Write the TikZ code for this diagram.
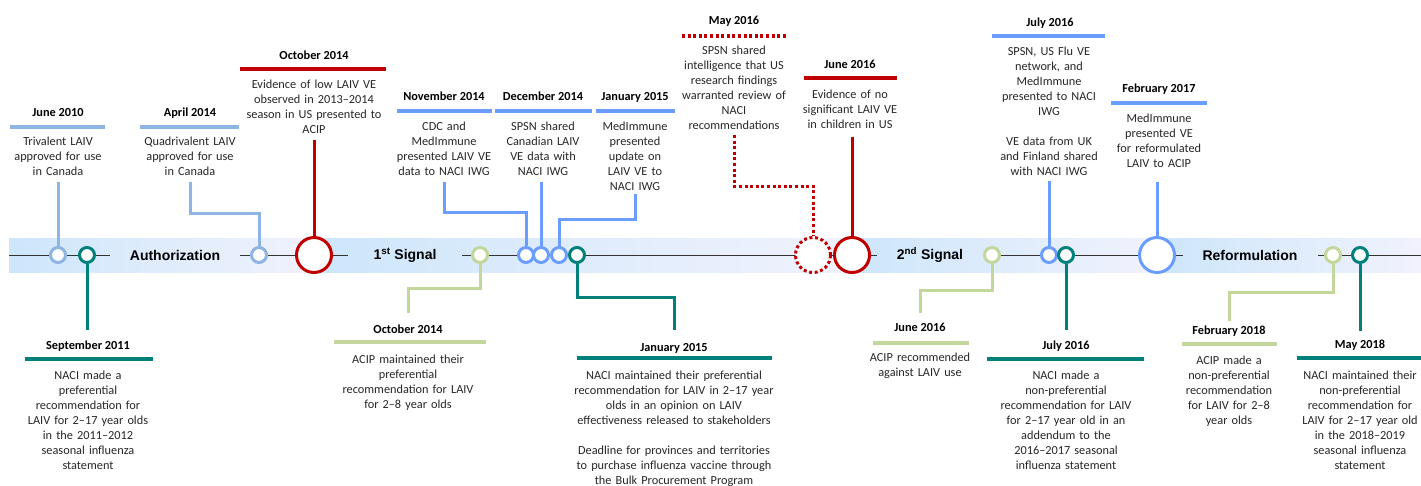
\documentclass[tikz,border=0pt]{standalone}
\usepackage{fontspec}
\setmainfont{Carlito}
\newfontfamily\stagefont{Liberation Sans}
\definecolor{lblue}{HTML}{8DB4E2}
\definecolor{mblue}{HTML}{6B9DFF}
\definecolor{dred}{HTML}{C00000}
\definecolor{lgreen}{HTML}{C3D69B}
\definecolor{tealc}{HTML}{00807A}
\definecolor{bandL}{HTML}{CDE6FB}
\definecolor{bandR}{HTML}{F1F2FD}
\definecolor{txtc}{HTML}{262626}
\tikzset{
 body/.style={font=\fontsize{12.3}{15}\selectfont, text=txtc, text width=#1, align=center, anchor=base, inner sep=0pt},
 datel/.style={font=\fontsize{12.3}{15}\selectfont\bfseries, anchor=base, inner sep=0pt},
 bar/.style={line width=3.5pt},
 conn/.style={line width=3pt},
 sdot/.style={circle, draw, fill=white, line width=3pt, minimum size=15pt, inner sep=0pt},
 bdot/.style={sdot, minimum size=35pt},
 dotline/.style={dash pattern=on 3pt off 2.6pt},
 tline/.style={line width=1pt, draw=black!80},
 stage/.style={font=\stagefont\fontsize{14}{16}\selectfont\bfseries, inner sep=0pt},
}
\begin{document}
\begin{tikzpicture}[x=1pt,y=-1pt]
\useasboundingbox (0,0) rectangle (1421,485);
% band
\shade[left color=bandL, right color=bandR] (9,238) rectangle (314,272);
\shade[left color=bandL, right color=bandR] (314,238) rectangle (852,272);
\shade[left color=bandL, right color=bandR] (852,238) rectangle (1157,272);
\shade[left color=bandL, right color=bandR] (1157,238) rectangle (1421,272);
% stage labels
\node[stage] (sA) at (175,255) {Authorization};
\node[stage] (sB) at (405,255) {1\textsuperscript{st} Signal};
\node[stage] (sC) at (930,255) {2\textsuperscript{nd} Signal};
\node[stage] (sD) at (1250,255) {Reformulation};
% timeline
\draw[tline] (9,255) -- (110,255);
\draw[tline] (240,255) -- (348,255);
\draw[tline] (462,255) -- (877,255);
\draw[tline] (983,255) -- (1183,255);
\draw[tline] (1318,255) -- (1421,255);
% circles
\node[sdot, draw=lblue] (cJun10) at (58,255) {};
\node[sdot, draw=tealc] (cSep11) at (87,255) {};
\node[sdot, draw=lblue] (cApr14) at (259,255) {};
\node[bdot, draw=dred] (cOct14) at (314,255) {};
\node[sdot, draw=lgreen] (cOct14b) at (480,255) {};
\node[sdot, draw=mblue] (cNov14) at (526,255) {};
\node[sdot, draw=mblue] (cDec14) at (541,255) {};
\node[sdot, draw=mblue] (cJan15) at (559,255) {};
\node[sdot, draw=tealc] (cJan15b) at (577,255) {};
\node[bdot, draw=dred, dotline] (cMay16) at (813,255) {};
\node[bdot, draw=dred] (cJun16) at (852,255) {};
\node[sdot, draw=lgreen] (cJun16b) at (992,255) {};
\node[sdot, draw=mblue] (cJul16) at (1049,255) {};
\node[sdot, draw=tealc] (cJul16b) at (1066,255) {};
\node[bdot, draw=mblue] (cFeb17) at (1157,255) {};
\node[sdot, draw=lgreen] (cFeb18) at (1333,255) {};
\node[sdot, draw=tealc] (cMay18) at (1360,255) {};

% ---------- top events ----------
% June 2010
\node[datel] (dJun10) at (58,116) {June 2010};
\draw[bar, lblue] (10,127) -- (105,127);
\node[body=110pt] (tJun10) at (58,145) {Trivalent LAIV\\approved for use\\in Canada};
\coordinate (kJun10) at (58,182);
\draw[conn, lblue] (kJun10) -- (cJun10);
% April 2014
\node[datel] (dApr14) at (190,116) {April 2014};
\draw[bar, lblue] (140,127) -- (239,127);
\node[body=110pt] (tApr14) at (190,145) {Quadrivalent LAIV\\approved for use\\in Canada};
\coordinate (kApr14) at (190,182);
\coordinate (bApr14) at (190,213);
\draw[conn, lblue] (kApr14) -- (bApr14) -| (cApr14);
% October 2014
\node[datel] (dOct14) at (314,59) {October 2014};
\draw[bar, dred] (240,69) -- (386,69);
\node[body=150pt] (tOct14) at (314,88) {Evidence of low LAIV VE\\observed in 2013--2014\\season in US presented to\\ACIP};
\coordinate (kOct14) at (314,140);
\draw[conn, dred] (kOct14) -- (cOct14);
% November 2014
\node[datel] (dNov14) at (444,100) {November 2014};
\draw[bar, mblue] (397,111) -- (492,111);
\node[body=110pt] (tNov14) at (444,130) {CDC and\\MedImmune\\presented LAIV VE\\data to NACI IWG};
\coordinate (kNov14) at (444,182);
\coordinate (bNov14) at (444,212);
\draw[conn, mblue] (kNov14) -- (bNov14) -| (cNov14);
% December 2014
\node[datel] (dDec14) at (543,100) {December 2014};
\draw[bar, mblue] (495,111) -- (592,111);
\node[body=110pt] (tDec14) at (543,130) {SPSN shared\\Canadian LAIV\\VE data with\\NACI IWG};
\coordinate (kDec14) at (541,182);
\draw[conn, mblue] (kDec14) -- (cDec14);
% January 2015
\node[datel] (dJan15) at (635,100) {January 2015};
\draw[bar, mblue] (596,111) -- (675,111);
\node[body=90pt] (tJan15) at (635,130) {MedImmune\\presented\\update on\\LAIV VE to\\NACI IWG};
\coordinate (kJan15) at (635,194);
\coordinate (bJan15) at (635,219);
\draw[conn, mblue] (kJan15) -- (bJan15) -| (cJan15);
% May 2016
\node[datel] (dMay16) at (734,24) {May 2016};
\draw[bar, dred, dotline] (682,36) -- (786,36);
\node[body=120pt] (tMay16) at (734,54) {SPSN shared\\intelligence that US\\research findings\\warranted review of\\NACI\\recommendations};
\coordinate (kMay16) at (734,135);
\coordinate (bMay16) at (734,186);
\draw[conn, dred, dotline] (kMay16) -- (bMay16) -| (cMay16);
% June 2016
\node[datel] (dJun16) at (850,68) {June 2016};
\draw[bar, dred] (804,78) -- (897,78);
\node[body=110pt] (tJun16) at (850,98) {Evidence of no\\significant LAIV VE\\in children in US};
\coordinate (kJun16) at (852,137);
\draw[conn, dred] (kJun16) -- (cJun16);
% July 2016
\node[datel] (dJul16) at (1050,26) {July 2016};
\draw[bar, mblue] (992,36) -- (1105,36);
\node[body=120pt] (tJul16) at (1049,55) {SPSN, US Flu VE\\network, and\\MedImmune\\presented to NACI\\IWG\\[15pt]VE data from UK\\and Finland shared\\with NACI IWG};
\coordinate (kJul16) at (1049,181);
\draw[conn, mblue] (kJul16) -- (cJul16);
% February 2017
\node[datel] (dFeb17) at (1159,92) {February 2017};
\draw[bar, mblue] (1111,103) -- (1207,103);
\node[body=110pt] (tFeb17) at (1159,122) {MedImmune\\presented VE\\for reformulated\\LAIV to ACIP};
\coordinate (kFeb17) at (1157,182);
\draw[conn, mblue] (kFeb17) -- (cFeb17);

% ---------- bottom events ----------
% September 2011
\coordinate (kSep11) at (87,330);
\draw[conn, tealc] (cSep11) -- (kSep11);
\node[datel] (dSep11) at (88,349) {September 2011};
\draw[bar, tealc] (25,359) -- (153,359);
\node[body=130pt] (tSep11) at (88,379) {NACI made a\\preferential\\recommendation for\\LAIV for 2--17 year olds\\in the 2011--2012\\seasonal influenza\\statement};
% October 2014 (ACIP)
\coordinate (bOct14b) at (408,288);
\coordinate (kOct14b) at (408,313);
\draw[conn, lgreen] (cOct14b) |- (bOct14b) -- (kOct14b);
\node[datel] (dOct14b) at (408,333) {October 2014};
\draw[bar, lgreen] (334,342) -- (486,342);
\node[body=150pt] (tOct14b) at (408,363) {ACIP maintained their\\preferential\\recommendation for LAIV\\for 2--8 year olds};
% January 2015 (NACI)
\coordinate (bJan15b) at (674,297);
\coordinate (kJan15b) at (674,330);
\draw[conn, tealc] (cJan15b) |- (bJan15b) -- (kJan15b);
\node[datel] (dJan15b) at (674,351) {January 2015};
\draw[bar, tealc] (577,358) -- (772,358);
\node[body=200pt] (tJan15b) at (674,379) {NACI maintained their preferential\\recommendation for LAIV in 2--17 year\\olds in an opinion on LAIV\\effectiveness released to stakeholders\\[15pt]Deadline for provinces and territories\\to purchase influenza vaccine through\\the Bulk Procurement Program};
% June 2016 (ACIP)
\coordinate (bJun16b) at (920,290);
\coordinate (kJun16b) at (920,313);
\draw[conn, lgreen] (cJun16b) |- (bJun16b) -- (kJun16b);
\node[datel] (dJun16b) at (920,331) {June 2016};
\draw[bar, lgreen] (873,343) -- (969,343);
\node[body=120pt] (tJun16b) at (920,361) {ACIP recommended\\against LAIV use};
% July 2016 (NACI)
\coordinate (kJul16b) at (1066,330);
\draw[conn, tealc] (cJul16b) -- (kJul16b);
\node[datel] (dJul16b) at (1066,349) {July 2016};
\draw[bar, tealc] (987,359) -- (1144,359);
\node[body=150pt] (tJul16b) at (1066,379) {NACI made a\\non-preferential\\recommendation for LAIV\\for 2--17 year old in an\\addendum to the\\2016--2017 seasonal\\influenza statement};
% February 2018 (ACIP)
\coordinate (bFeb18) at (1229,292);
\coordinate (kFeb18) at (1229,321);
\draw[conn, lgreen] (cFeb18) |- (bFeb18) -- (kFeb18);
\node[datel] (dFeb18) at (1229,334) {February 2018};
\draw[bar, lgreen] (1182,344) -- (1277,344);
\node[body=110pt] (tFeb18) at (1229,364) {ACIP made a\\non-preferential\\recommendation\\for LAIV for 2--8\\year olds};
% May 2018 (NACI)
\coordinate (kMay18) at (1360,331);
\draw[conn, tealc] (cMay18) -- (kMay18);
\node[datel] (dMay18) at (1360,348) {May 2018};
\draw[bar, tealc] (1297,358) -- (1421,358);
\node[body=130pt] (tMay18) at (1360,379) {NACI maintained their\\non-preferential\\recommendation for\\LAIV for 2--17 year old\\in the 2018--2019\\seasonal influenza\\statement};
\end{tikzpicture}
\end{document}
